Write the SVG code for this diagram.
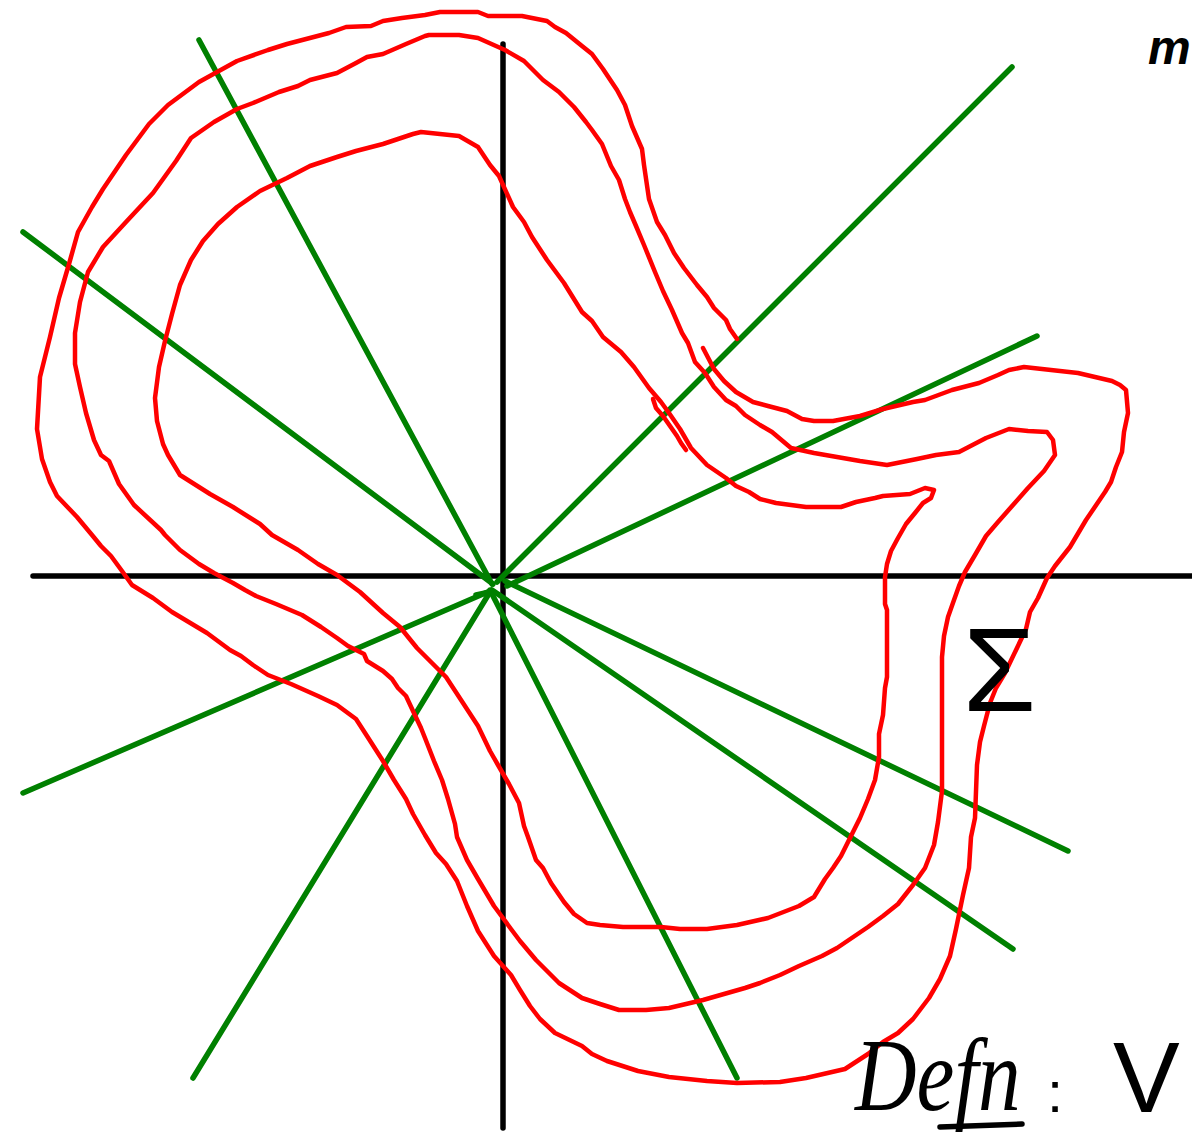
<svg xmlns="http://www.w3.org/2000/svg" width="1192" height="1135" viewBox="0 0 1192 1135">
<style>
.ax{stroke:#000;stroke-width:5.5;stroke-linecap:round;fill:none}
.ray{stroke:#008000;stroke-width:5.5;stroke-linecap:round;fill:none}
.cv{stroke:#ff0000;stroke-width:4.5;stroke-linejoin:round;stroke-linecap:round;fill:none}
.ink{fill:#000;font-family:"Liberation Sans","DejaVu Sans",sans-serif}
.hand{fill:#000;font-family:"Liberation Serif","DejaVu Serif",serif;font-style:italic}
</style>
<rect width="1192" height="1135" fill="#fff"/>
<g id="axes">
<line class="ax" x1="33" y1="576" x2="1192" y2="576"/>
<line class="ax" x1="503" y1="44" x2="503" y2="1128"/>
</g>
<g id="rays">
<line class="ray" x1="199" y1="40" x2="492" y2="584"/>
<line class="ray" x1="23" y1="232" x2="493" y2="584"/>
<line class="ray" x1="1012" y1="67" x2="497" y2="582"/>
<line class="ray" x1="1037" y1="336" x2="507" y2="586"/>
<line class="ray" x1="1068" y1="851" x2="505" y2="581"/>
<line class="ray" x1="1013" y1="949" x2="492" y2="590"/>
<line class="ray" x1="737" y1="1078" x2="490" y2="590"/>
<line class="ray" x1="193" y1="1078" x2="490" y2="592"/>
<line class="ray" x1="23" y1="793" x2="490" y2="591"/>
<line class="ray" x1="476" y1="595" x2="490" y2="592"/>
</g>
<g id="curves">
<polyline id="outer" class="cv" points="703,348 714,369 724,381 736,392 753,402 768,406 787,411 802,419 814,421 833,421 860,416 883,409 913,402 925,400 952,390 979,383 998,375 1009,370 1024,367 1051,370 1078,373 1112,381 1120,385 1126,390 1128,413 1124,432 1122,452 1116,467 1111,482 1105,492 1086,520 1070,547 1055,566 1047,578 1038,598 1030,612 1026,629 1017,648 1005,673 996,688 990,703 984,726 980,742 977,765 975,818 971,837 969,868 963,895 956,929 950,956 940,979 929,998 913,1019 898,1033 883,1042 868,1054 845,1069 806,1078 780,1082 737,1083 707,1081 669,1077 638,1071 607,1061 592,1054 582,1046 555,1033 540,1019 530,1006 520,990 511,975 494,956 478,931 467,906 457,881 446,864 436,853 425,835 413,814 406,799 394,780 383,761 367,736 356,719 337,705 318,696 291,684 268,675 253,665 241,656 230,650 207,633 172,612 153,598 132,585 122,571 111,556 101,546 92,535 77,517 57,496 50,482 42,459 37,429 40,377 50,337 59,298 69,264 78,232 92,207 103,189 126,155 149,124 168,105 199,82 237,61 268,50 287,44 329,33 346,27 371,26 383,21 402,18 425,15 440,12 478,12 488,16 522,16 547,21 555,27 566,33 582,46 592,54 603,69 617,90 625,105 632,126 642,149 644,165 649,199 657,222 665,235 674,253 684,268 697,285 707,297 714,308 726,320 730,329 737,339"/>
<polygon id="middle" class="cv" points="429,35 459,35 478,38 505,50 524,61 543,80 559,92 574,107 586,122 592,130 602,144 611,166 619,180 625,199 630,212 636,226 644,245 655,272 663,291 672,310 682,333 688,343 695,362 705,373 714,387 726,400 736,406 745,415 760,425 772,432 791,448 814,453 837,457 860,461 887,465 917,459 936,455 959,452 986,438 1009,429 1028,431 1047,432 1053,440 1055,455 1044,471 1028,488 1013,505 998,522 986,536 975,555 965,572 959,586 954,600 948,617 944,636 942,657 942,791 938,822 934,845 925,868 913,885 898,904 883,916 868,927 837,948 822,956 799,966 780,975 760,983 745,988 703,1000 669,1008 646,1010 619,1010 600,1004 582,998 559,983 536,960 520,941 511,929 494,906 478,879 467,860 457,837 455,824 448,799 442,780 434,761 425,738 421,728 413,711 406,696 398,688 392,679 383,671 367,661 364,654 348,646 337,638 321,627 302,615 276,604 256,596 245,590 233,583 214,573 199,564 180,550 165,535 161,530 134,505 119,484 109,461 101,455 94,440 86,413 80,387 75,364 75,333 80,302 88,272 103,247 126,222 153,193 176,161 191,138 214,122 237,109 253,103 279,92 298,86 310,80 337,73 356,63 367,57 383,54 406,44 425,36"/>
<polygon id="inner" class="cv" points="421,132 440,134 459,136 478,147 490,165 499,176 513,207 524,222 532,237 547,260 564,283 582,312 592,321 603,337 621,352 634,367 649,388 661,402 669,413 680,429 691,448 707,465 726,478 736,486 749,492 760,499 776,503 806,507 841,507 856,502 875,498 883,496 910,494 925,488 934,490 931,498 923,503 915,513 906,524 898,538 891,551 887,564 885,577 885,604 887,610 887,677 885,688 883,715 879,734 879,757 875,780 868,799 860,818 852,834 841,856 833,868 825,879 814,897 799,906 768,918 737,925 707,929 680,929 661,927 623,927 600,925 587,923 574,914 564,902 551,883 543,868 536,860 528,837 524,826 519,803 509,784 498,765 490,751 478,726 463,703 446,677 432,663 417,648 400,627 383,613 360,592 337,575 318,564 298,550 272,535 260,524 233,507 210,494 180,475 168,455 163,444 157,421 155,398 159,367 165,341 172,314 180,285 191,260 203,241 218,224 237,207 260,191 287,178 310,166 337,157 356,151 383,144 413,134"/>
<polyline id="scribble" class="cv" points="653,399 656,408 663,416 670,426 677,436 681,443 686,450"/>
</g>
<g id="labels">
<text class="ink" x="1148" y="64" font-size="48" font-style="italic" font-weight="bold">m</text>
<text class="ink" x="963" y="711" font-size="118">Σ</text>
<text class="hand" transform="translate(855,1110) scale(0.82,1)" x="0" y="0" font-size="104">Defn</text>
<line class="ax" x1="940" y1="1127" x2="1022" y2="1124" stroke-width="4"/>
<text class="ink" x="1047" y="1112" font-size="58">:</text>
<text class="ink" x="1113" y="1112" font-size="100">V</text>
</g>
</svg>
